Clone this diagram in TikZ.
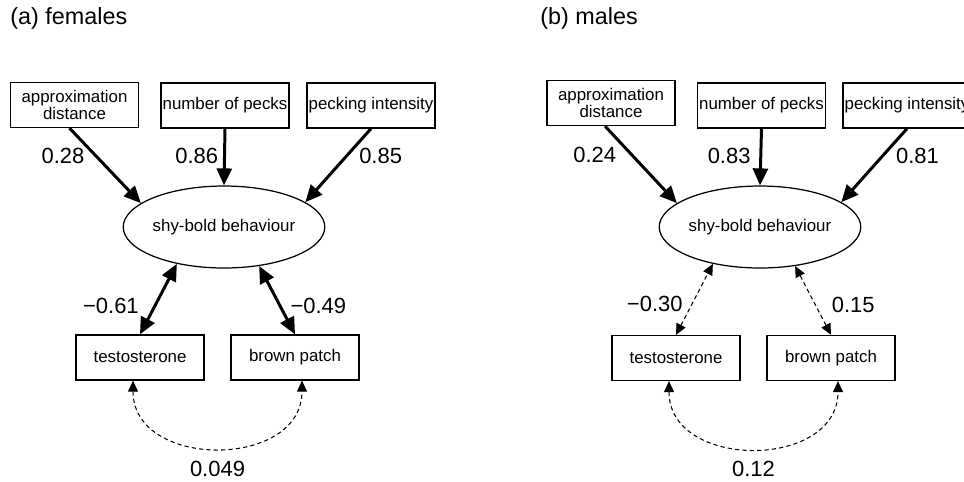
\documentclass[tikz,border=0pt]{standalone}
\usepackage{fontspec}
\setmainfont{Liberation Sans}
\usetikzlibrary{arrows.meta,shapes.geometric}
\tikzstyle{box} = [rectangle, draw, line width=0.7pt, minimum width=2.56cm, minimum height=0.9cm, align=center, inner sep=1pt, font=\fontsize{9.6}{10.2}\selectfont]
\tikzstyle{latent} = [ellipse, draw, line width=0.7pt, minimum width=3.88cm, minimum height=1.64cm, inner sep=0pt, font=\fontsize{9.6}{11}\selectfont]
\tikzstyle{strong} = [line width=1.7pt, -{Triangle[length=0.34cm,width=0.3cm]}]
\tikzstyle{strongboth} = [line width=1.7pt, {Triangle[length=0.34cm,width=0.3cm]}-{Triangle[length=0.34cm,width=0.3cm]}]
\tikzstyle{weakboth} = [line width=0.6pt, dash pattern=on 2.4pt off 1.8pt, {Triangle[length=0.22cm,width=0.2cm]}-{Triangle[length=0.22cm,width=0.2cm]}]
\tikzstyle{lbl} = [inner sep=0pt, font=\fontsize{12.5}{14}\selectfont]
\tikzstyle{title} = [inner sep=0pt, anchor=west, font=\fontsize{13.3}{15}\selectfont]

\begin{document}
\begin{tikzpicture}[x=0.02cm, y=-0.02cm]
        \useasboundingbox (0,0) rectangle (964,481);
        % (a) females
        \node(ttla) [title] at (10,18) {(a) females};
        \node(apl) [box] at (74.5,105) {approximation\\distance};
        \node(npl) [box] at (225,105.5) {number of pecks};
        \node(pil) [box] at (371,105.5) {pecking intensity};
        \node(shl) [latent] at (224,227) {shy-bold behaviour};
        \node(tel) [box] at (140,357.5) {testosterone};
        \node(bpl) [box] at (295,357.5) {brown patch};
        \draw[strong] ([xshift=-0.1cm]apl.south) --node[lbl, pos=.37, left=5.7pt](la1){0.28} (shl.164);
        \draw[strong] (npl.south) --node[lbl, pos=.48, left=2.8pt](la2){0.86} (shl.north);
        \draw[strong] (pil.south) --node[lbl, pos=.37, right=6.3pt](la3){0.85} (shl.17);
        \draw[strongboth] (tel.north) --node[lbl, pos=.41, left=8.5pt](la4){−0.61} (shl.218);
        \draw[strongboth] (bpl.north) --node[lbl, pos=.41, right=5pt](la5){−0.49} (shl.312);
        \draw[weakboth] ([xshift=-0.14cm]tel.south) .. controls +(0,89) and +(0,89) ..
            node[lbl, pos=.5, below=7.4pt](la6){0.049} ([xshift=0.14cm]bpl.south);
        % (b) males
        \node(ttlb) [title] at (540,18) {(b) males};
        \node(apr) [box] at (611,103) {approximation\\distance};
        \node(npr) [box] at (761.5,105.5) {number of pecks};
        \node(pir) [box] at (907,105.5) {pecking intensity};
        \node(shr) [latent] at (760,227) {shy-bold behaviour};
        \node(ter) [box] at (676,358) {testosterone};
        \node(bpr) [box] at (831,358) {brown patch};
        \draw[strong] ([xshift=-0.12cm]apr.south) --node[lbl, pos=.37, left=8pt](lb1){0.24} (shr.164);
        \draw[strong] (npr.south) --node[lbl, pos=.48, left=5pt](lb2){0.83} (shr.north);
        \draw[strong] (pir.south) --node[lbl, pos=.37, right=6.8pt](lb3){0.81} (shr.17);
        \draw[weakboth] (ter.north) --node[lbl, pos=.43, left=5pt](lb4){−0.30} (shr.218);
        \draw[weakboth] (bpr.north) --node[lbl, pos=.43, right=9pt](lb5){0.15} (shr.312);
        \draw[weakboth] ([xshift=-0.14cm]ter.south) .. controls +(0,89) and +(0,89) ..
            node[lbl, pos=.5, below=7.4pt](lb6){0.12} ([xshift=0.14cm]bpr.south);
\end{tikzpicture}
\end{document}
